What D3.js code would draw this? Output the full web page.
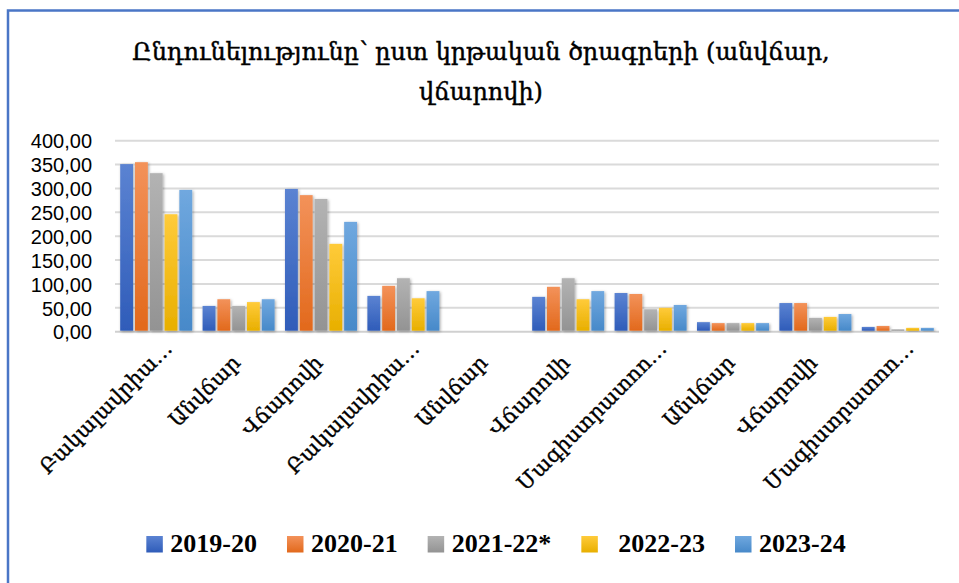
<!DOCTYPE html>
<html>
<head>
<meta charset="utf-8">
<script src="https://cdn.jsdelivr.net/npm/d3@7/dist/d3.min.js"></script>
<style>
  body { margin: 0; background: #fff; }
  svg { display: block; }
</style>
</head>
<body>
<svg id="chart" width="959" height="583"></svg>
<script>
// categories as shown under the bars (Excel truncated the long ones)
const categories = ["Բակալավրիա…", "Անվճար", "Վճարովի", "Բակալավրիա…", "Անվճար",
                    "Վճարովի", "Մագիստրատոո…", "Անվճար", "Վճարովի", "Մագիստրատոո…"];
const seriesNames = ["2019-20", "2020-21", "2021-22*", "  2022-23", "2023-24"];
const seriesColors = [["#5b83d2", "#2f5cb9"], ["#f3925a", "#e2691c"], ["#b3b3b3", "#939393"],
                      ["#ffcb3a", "#e8af00"], ["#70a8df", "#4789c9"]];

const v2019 = [351, 54, 299, 75, null, 73, 81, 20, 60, 10];
const v2020 = [355, 68, 286, 96, null, 94, 79, 18, 60, 12];
const v2021 = [332, 54, 278, 112, null, 112, 47, 18, 29, 5];
const v2022 = [246, 62, 184, 70, null, 68, 50, 18, 31, 8];
const v2023 = [297, 68, 230, 85, null, 85, 56, 18, 37, 8];
const yTicks = [0, 50, 100, 150, 200, 250, 300, 350, 400];

const title = ["Ընդունելությունը՝ ըստ կրթական ծրագրերի (անվճար,", "վճարովի)"];

const series = [v2019, v2020, v2021, v2022, v2023];

const svg = d3.select("#chart");
const W = 959, H = 583;
const plot = { left: 115, right: 939, top: 140.7, bottom: 331.7 };

// frame of the chart object (blue border top and left)
svg.append("rect").attr("x", 0).attr("y", 0).attr("width", W).attr("height", H).attr("fill", "#fff");
svg.append("path")
  .attr("d", `M8,${H} L8,10.5 L${W},10.5`)
  .attr("fill", "none").attr("stroke", "#4a76c6").attr("stroke-width", 2.5);

const defs = svg.append("defs");
seriesColors.forEach((c, i) => {
  const g = defs.append("linearGradient").attr("id", "grad" + i)
    .attr("x1", 0).attr("y1", 0).attr("x2", 0).attr("y2", 1);
  g.append("stop").attr("offset", "0%").attr("stop-color", c[0]);
  g.append("stop").attr("offset", "100%").attr("stop-color", c[1]);
});
const shadow = defs.append("filter").attr("id", "shadow")
  .attr("x", "-30%").attr("y", "-10%").attr("width", "160%").attr("height", "130%");
shadow.append("feDropShadow").attr("dx", 1).attr("dy", 1)
  .attr("stdDeviation", 1.6).attr("flood-color", "#000").attr("flood-opacity", 0.35);

// title
const titleG = svg.append("g").attr("font-family", "'DejaVu Serif', serif").attr("fill", "#000")
  .attr("stroke", "#000").attr("stroke-width", 0.45);
const t1 = titleG.append("text").attr("x", 481).attr("y", 60).attr("text-anchor", "middle")
  .attr("font-size", 26).text(title[0]);
const fit = 26 * 698 / t1.node().getComputedTextLength();
t1.attr("font-size", fit);
titleG.append("text").attr("x", 481).attr("y", 100).attr("text-anchor", "middle")
  .attr("font-size", fit).text(title[1]);

// scales
const x0 = d3.scaleBand().domain(d3.range(categories.length))
  .range([plot.left, plot.right]).paddingInner(0.126).paddingOuter(0.063);
const x1 = d3.scaleBand().domain(d3.range(series.length))
  .range([0, x0.bandwidth()]).paddingInner(0.13);
const y = d3.scaleLinear().domain([0, 400]).range([plot.bottom, plot.top]);

const loc = d3.formatLocale({ decimal: ",", thousands: " ", grouping: [3], currency: ["", ""] });
const fmt = loc.format(".2f");

// gridlines
svg.append("g").selectAll("line").data(yTicks).join("line")
  .attr("x1", plot.left).attr("x2", plot.right)
  .attr("y1", d => y(d)).attr("y2", d => y(d))
  .attr("stroke", d => d === 0 ? "#d0d0d0" : "#dadada").attr("stroke-width", 2);

// y axis labels
const yAxis = svg.append("g").attr("transform", `translate(92,0)`)
  .call(d3.axisLeft(y).tickValues(yTicks).tickFormat(fmt).tickSize(0).tickPadding(0));
yAxis.select(".domain").remove();
yAxis.selectAll("text").attr("font-family", "'Liberation Sans', Arial, sans-serif")
  .attr("font-size", 20).attr("fill", "#000").attr("dy", "0.36em");

// bars
const groups = svg.append("g").selectAll("g").data(categories).join("g")
  .attr("transform", (d, i) => `translate(${x0(i)},0)`);
groups.selectAll("rect")
  .data((d, i) => series.map((s, k) => ({ k, v: s[i] })).filter(e => e.v != null))
  .join("rect")
  .attr("x", e => x1(e.k)).attr("width", x1.bandwidth())
  .attr("y", e => y(e.v)).attr("height", e => y(0) - y(e.v) - 1)
  .attr("fill", e => `url(#grad${e.k})`)
  .attr("filter", "url(#shadow)");

// category labels, rotated -45
svg.append("g").selectAll("text").data(categories).join("text")
  .attr("transform", (d, i) => `translate(${x0(i) + x0.bandwidth() / 2 + 3},364) rotate(-45)`)
  .attr("text-anchor", "end")
  .attr("dx", d => d.endsWith("…") ? 20 : 0)
  .attr("font-family", "'DejaVu Serif', serif").attr("font-size", 21).attr("fill", "#000")
  .attr("stroke", "#000").attr("stroke-width", 0.35)
  .text(d => d);

// legend
const legend = svg.append("g").attr("font-family", "'Liberation Serif', 'Times New Roman', serif")
  .attr("font-weight", "bold").attr("font-size", 26);
let lx = 0;
const items = legend.selectAll("g").data(seriesNames).join("g");
items.append("rect").attr("y", -16).attr("width", 16.5).attr("height", 16.5)
  .attr("fill", (d, i) => `url(#grad${i})`);
items.append("text").attr("x", 24).attr("y", 0).style("white-space", "pre").text(d => d);
items.each(function () {
  const w = d3.select(this).select("text").node().getComputedTextLength();
  d3.select(this).attr("transform", `translate(${lx},0)`);
  lx += 24 + w + 30;
});
const legendW = lx - 30;
legend.attr("transform", `translate(${496 - legendW / 2},552)`);
</script>
</body>
</html>
